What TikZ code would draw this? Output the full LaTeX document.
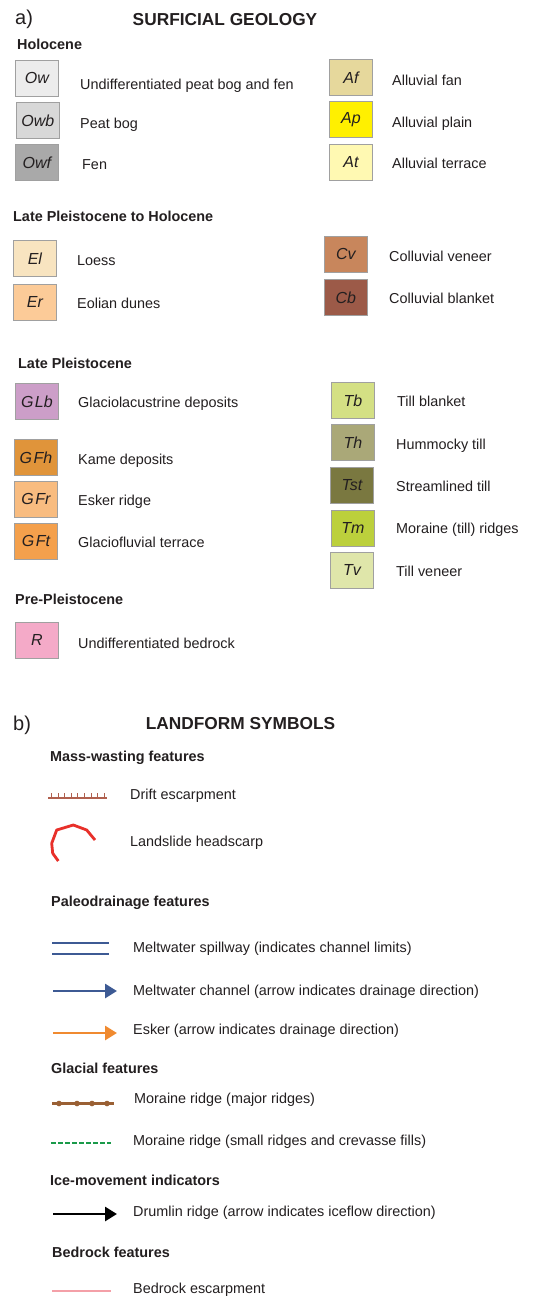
\documentclass[tikz,border=0pt]{standalone}
\usepackage{fontspec}
\setmainfont{Liberation Sans}
\usetikzlibrary{arrows.meta}
\definecolor{boxgray}{HTML}{A0A0A0}
\definecolor{cOw}{HTML}{ECECEC}
\definecolor{cOwb}{HTML}{D8D8D8}
\definecolor{cOwf}{HTML}{A9A9A9}
\definecolor{cAf}{HTML}{E6D89C}
\definecolor{cAp}{HTML}{FFF000}
\definecolor{cAt}{HTML}{FFF9B2}
\definecolor{cEl}{HTML}{F8E4C0}
\definecolor{cEr}{HTML}{FCCB98}
\definecolor{cCv}{HTML}{C8865C}
\definecolor{cCb}{HTML}{9C5A48}
\definecolor{cGLb}{HTML}{CC9EC8}
\definecolor{cGFh}{HTML}{E0943A}
\definecolor{cGFr}{HTML}{F8BC80}
\definecolor{cGFt}{HTML}{F4A04C}
\definecolor{cTb}{HTML}{D4E084}
\definecolor{cTh}{HTML}{AAA878}
\definecolor{cTst}{HTML}{7A7840}
\definecolor{cTm}{HTML}{BCD03C}
\definecolor{cTv}{HTML}{DFE6AA}
\definecolor{cR}{HTML}{F4AAC8}
\definecolor{lblue}{HTML}{3D5A94}
\definecolor{lorange}{HTML}{F08A30}
\definecolor{ldrift}{HTML}{B0604E}
\definecolor{lscarp}{HTML}{E8302A}
\definecolor{lmoraine}{HTML}{9A6034}
\definecolor{lgreen}{HTML}{1A9A4A}
\definecolor{lpink}{HTML}{F4A0A8}
\definecolor{txt}{HTML}{231F20}
\begin{document}
\begin{tikzpicture}[x=1pt,y=-1pt,
  unitbox/.style={draw=boxgray, line width=0.8pt, minimum width=43pt, minimum height=36pt,
    inner sep=0pt, anchor=north west, text=txt, font=\fontsize{16}{16}\selectfont\itshape},
  lbl/.style={anchor=base west, inner sep=0pt, text=txt, font=\fontsize{14.4}{16}\selectfont},
  hd/.style={anchor=base west, inner sep=0pt, text=txt, font=\fontsize{14.4}{16}\selectfont\bfseries},
  ttl/.style={anchor=base, inner sep=0pt, text=txt, font=\fontsize{17.3}{18}\selectfont\bfseries},
  part/.style={anchor=base west, inner sep=0pt, text=txt, font=\fontsize{20}{20}\selectfont},
  flowarrow/.style={line width=2.8pt, -{Triangle[length=12pt,width=14pt]}},
]
\useasboundingbox (0,0) rectangle (546,1296);
\fill[white] (0,0) rectangle (546,1296);

% ---------- a) ----------
\node[part] (pa) at (15,24) {a)};
\node[ttl] (t1) at (225,25) {SURFICIAL GEOLOGY};

\node[hd] (h1) at (17,49) {Holocene};
\node[unitbox, fill=cOw]  (Ow)  at (15,60)  {Ow};
\node[lbl] (lOw) at (80,89) {Undifferentiated peat bog and fen};
\node[unitbox, fill=cOwb] (Owb) at (16,102) {Owb};
\node[lbl] (lOwb) at (80,128) {Peat bog};
\node[unitbox, fill=cOwf] (Owf) at (15,144) {Owf};
\node[lbl] (lOwf) at (82,169) {Fen};

\node[unitbox, fill=cAf] (Af) at (329,59)  {Af};
\node[lbl] (lAf) at (392,85) {Alluvial fan};
\node[unitbox, fill=cAp] (Ap) at (329,101) {Ap};
\node[lbl] (lAp) at (392,127) {Alluvial plain};
\node[unitbox, fill=cAt] (At) at (329,144) {At};
\node[lbl] (lAt) at (392,168) {Alluvial terrace};

\node[hd] (h2) at (13,221) {Late Pleistocene to Holocene};
\node[unitbox, fill=cEl] (El) at (13,240) {El};
\node[lbl] (lEl) at (77,265) {Loess};
\node[unitbox, fill=cEr] (Er) at (13,284) {Er};
\node[lbl] (lEr) at (77,308) {Eolian dunes};
\node[unitbox, fill=cCv] (Cv) at (324,236) {Cv};
\node[lbl] (lCv) at (389,261) {Colluvial veneer};
\node[unitbox, fill=cCb] (Cb) at (324,279) {Cb};
\node[lbl] (lCb) at (389,303) {Colluvial blanket};

\node[hd] (h3) at (18,368) {Late Pleistocene};
\node[unitbox, fill=cGLb] (GLb) at (15,383) {G\kern1.5pt Lb};
\node[lbl] (lGLb) at (78,407) {Glaciolacustrine deposits};
\node[unitbox, fill=cGFh] (GFh) at (14,439) {G\kern1.5pt Fh};
\node[lbl] (lGFh) at (78,464) {Kame deposits};
\node[unitbox, fill=cGFr] (GFr) at (14,481) {G\kern1.5pt Fr};
\node[lbl] (lGFr) at (78,505) {Esker ridge};
\node[unitbox, fill=cGFt] (GFt) at (14,523) {G\kern1.5pt Ft};
\node[lbl] (lGFt) at (78,547) {Glaciofluvial terrace};

\node[unitbox, fill=cTb]  (Tb)  at (331,382) {Tb};
\node[lbl] (lTb) at (397,406) {Till blanket};
\node[unitbox, fill=cTh]  (Th)  at (331,424) {Th};
\node[lbl] (lTh) at (396,449) {Hummocky till};
\node[unitbox, fill=cTst] (Tst) at (330,467) {Tst};
\node[lbl] (lTst) at (396,491) {Streamlined till};
\node[unitbox, fill=cTm]  (Tm)  at (331,510) {Tm};
\node[lbl] (lTm) at (396,533) {Moraine (till) ridges};
\node[unitbox, fill=cTv]  (Tv)  at (330,552) {Tv};
\node[lbl] (lTv) at (396,576) {Till veneer};

\node[hd] (h4) at (15,604) {Pre-Pleistocene};
\node[unitbox, fill=cR] (R) at (15,622) {R};
\node[lbl] (lR) at (78,648) {Undifferentiated bedrock};

% ---------- b) ----------
\node[part] (pb) at (13,730) {b)};
\node[ttl] (t2) at (240.5,729) {LANDFORM SYMBOLS};

\node[hd] (h5) at (50,761) {Mass-wasting features};
\coordinate (d1) at (48,798); \coordinate (d2) at (107,798);
\draw[ldrift, line width=2.4pt] (d1) -- (d2);
\foreach \i in {0,...,8} \draw[ldrift, line width=0.9pt] (51.5+6.6*\i,797) -- ++(0,-4);
\node[lbl] (ld) at (130,799) {Drift escarpment};

\draw[lscarp, line width=2.8pt, line join=round] (58.3,861) -- (52.7,853.3) -- (51.7,843.3) -- (56.7,830) -- (73.3,825) -- (86.7,830) -- (95,840);
\node[lbl] (ls) at (130,846) {Landslide headscarp};

\node[hd] (h6) at (51,906) {Paleodrainage features};
\coordinate (s1) at (52,943); \coordinate (s2) at (109,943);
\coordinate (s3) at (52,954); \coordinate (s4) at (109,954);
\draw[lblue, line width=1.6pt] (s1) -- (s2);
\draw[lblue, line width=1.6pt] (s3) -- (s4);
\node[lbl] (lsp) at (133,952) {Meltwater spillway (indicates channel limits)};

\coordinate (m1) at (53,991); \coordinate (m2) at (117,991);
\draw[lblue, flowarrow] (m1) -- (m2);
\node[lbl] (lmc) at (133,995) {Meltwater channel (arrow indicates drainage direction)};

\coordinate (e1) at (53,1033); \coordinate (e2) at (117,1033);
\draw[lorange, flowarrow] (e1) -- (e2);
\node[lbl] (les) at (133,1034) {Esker (arrow indicates drainage direction)};

\node[hd] (h7) at (51,1073) {Glacial features};
\coordinate (r1) at (52,1103.5); \coordinate (r2) at (114,1103.5);
\draw[lmoraine, line width=2.6pt] (r1) -- (r2);
\foreach \x in {59,77,92,107} \fill[lmoraine] (\x,1103.5) circle (2.8);
\node[lbl] (lmr) at (134,1103) {Moraine ridge (major ridges)};

\coordinate (g1) at (51,1143); \coordinate (g2) at (111,1143);
\draw[lgreen, line width=1.3pt, dash pattern=on 4.5pt off 2.5pt] (g1) -- (g2);
\node[lbl] (lms) at (133,1145) {Moraine ridge (small ridges and crevasse fills)};

\node[hd] (h8) at (50,1185) {Ice-movement indicators};
\coordinate (k1) at (53,1214); \coordinate (k2) at (117,1214);
\draw[black, flowarrow] (k1) -- (k2);
\node[lbl] (ldr) at (133,1216) {Drumlin ridge (arrow indicates iceflow direction)};

\node[hd] (h9) at (52,1257) {Bedrock features};
\coordinate (b1) at (52,1291); \coordinate (b2) at (111,1291);
\draw[lpink, line width=1.6pt] (b1) -- (b2);
\node[lbl] (lbe) at (133,1293) {Bedrock escarpment};
\end{tikzpicture}
\end{document}
